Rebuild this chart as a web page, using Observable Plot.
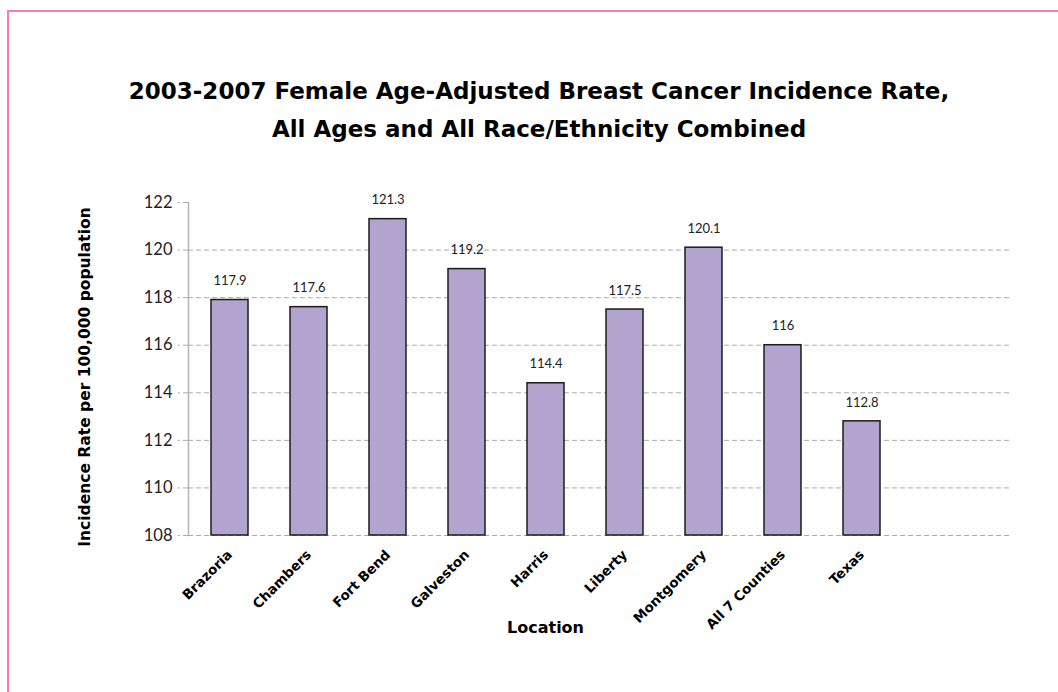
<!DOCTYPE html>
<html>
<head>
<meta charset="utf-8">
<script src="https://cdn.jsdelivr.net/npm/d3@7"></script>
<script src="https://cdn.jsdelivr.net/npm/@observablehq/plot@0.6"></script>
<style>
  html, body { margin: 0; padding: 0; background: #fff; }
  #page { position: relative; width: 1058px; height: 692px; overflow: hidden; background: #fff; }
  #edge { position: absolute; left: 7px; top: 10px; width: 3000px; height: 3000px;
          border-top: 2px solid #f47cbc; border-left: 2px solid #f47cbc; }
  #title { position: absolute; left: 0; top: 72px; width: 1078px; text-align: center;
           font-family: "DejaVu Sans", sans-serif; font-weight: bold; font-size: 23px;
           line-height: 38px; color: #000; }
  #chart { position: absolute; left: 0; top: 140px; }
  #chart svg { overflow: visible; }
</style>
</head>
<body>
<div id="page">
  <div id="edge"></div>
  <div id="title">2003-2007 Female Age-Adjusted Breast Cancer Incidence Rate,<br>All Ages and All Race/Ethnicity Combined</div>
  <div id="chart"></div>
</div>
<script>
// Incidence rate per 100,000 population, by location
const locations = ["Brazoria", "Chambers", "Fort Bend", "Galveston", "Harris", "Liberty", "Montgomery", "All 7 Counties", "Texas"];
const rates = [117.9, 117.6, 121.3, 119.2, 114.4, 117.5, 120.1, 116, 112.8];
const rateLabels = ["117.9", "117.6", "121.3", "119.2", "114.4", "117.5", "120.1", "116", "112.8"];
const yTicks = [108, 110, 112, 114, 116, 118, 120, 122];
const gridTicks = [108, 110, 112, 114, 116, 118, 120];
const yAxisTitle = "Incidence Rate per 100,000 population";
const xAxisTitle = "Location";

const rows = locations.map((location, i) => ({location, rate: rates[i], label: rateLabels[i]}));

const chart = Plot.plot({
  width: 1058,
  height: 552,
  marginLeft: 188,
  marginRight: 48,
  marginTop: 62,
  marginBottom: 157,
  style: {fontFamily: "Lato, sans-serif", color: "#222", background: "transparent"},
  x: {domain: locations, range: [188, 903], paddingInner: 0.534, paddingOuter: 0.267, label: null},
  y: {domain: [108, 122], label: null},
  marks: [
    Plot.gridY({ticks: gridTicks, stroke: "#aaa", strokeOpacity: 1, strokeDasharray: "5,3"}),
    Plot.frame({anchor: "left", stroke: "#b5b5b5", strokeWidth: 1.5}),
    Plot.axisY({ticks: yTicks, tickSize: 10, tickPadding: 6, fontSize: 16.5, stroke: "#aaa",
                strokeDasharray: "5,3", label: null, tickFormat: d => String(d)}),
    Plot.barY(rows, {x: "location", y1: 108, y2: "rate", fill: "#b2a4cf", stroke: "#1c1c1c", strokeWidth: 1.5}),
    Plot.text(rows, {x: "location", y: "rate", text: "label", dy: -19, fontSize: 13, fill: "#222"}),
    Plot.axisX({tickSize: 0, tickPadding: 17, tickRotate: -45, fontSize: 13.5, fontWeight: "bold",
                fontFamily: "DejaVu Sans, sans-serif", fill: "#000", label: null}),
    Plot.text([yAxisTitle], {frameAnchor: "left", textAnchor: "middle", rotate: -90, dx: -103, dy: 8,
                fontSize: 15.5, fontWeight: "bold", fontFamily: "DejaVu Sans, sans-serif", fill: "#000"}),
    Plot.text([xAxisTitle], {frameAnchor: "bottom", dx: -54, dy: 97, fontSize: 16,
                fontWeight: "bold", fontFamily: "DejaVu Sans, sans-serif", fill: "#000"})
  ]
});
document.getElementById("chart").appendChild(chart);
</script>
</body>
</html>
